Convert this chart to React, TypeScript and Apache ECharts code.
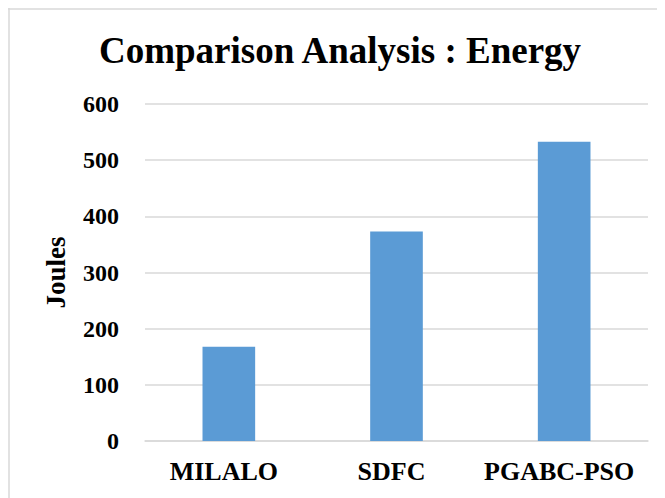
import React, { useEffect, useRef } from "react";
import * as echarts from "echarts";

const categories = ["MILALO", "SDFC", "PGABC-PSO"];
const energyJoules = [168, 373, 533];
const yTicks = { min: 0, max: 600, interval: 100 };

const FONT = "'Liberation Serif', 'Times New Roman', serif";

export default function App() {
  const ref = useRef<HTMLDivElement>(null);

  useEffect(() => {
    if (!ref.current) return;
    const chart = echarts.init(ref.current, undefined, { renderer: "svg" });
    chart.setOption({
      animation: false,
      backgroundColor: "#ffffff",
      title: {
        text: "Comparison Analysis : Energy",
        left: 86,
        top: 19,
        textStyle: {
          fontFamily: FONT,
          fontWeight: "bold",
          fontSize: 37,
          color: "#000000",
        },
      },
      graphic: [
        {
          type: "line",
          shape: { x1: 0, y1: 1, x2: 657, y2: 1 },
          style: { stroke: "#d9d9d9", lineWidth: 1.5 },
        },
        {
          type: "line",
          shape: { x1: 1, y1: 0, x2: 1, y2: 490 },
          style: { stroke: "#d9d9d9", lineWidth: 1.5 },
        },
      ],
      grid: { left: 137, right: 17, top: 96, bottom: 57 },
      xAxis: {
        type: "category",
        data: categories,
        axisTick: { show: false },
        axisLine: { lineStyle: { color: "#d9d9d9", width: 1.5 } },
        axisLabel: {
          interval: 0,
          fontFamily: FONT,
          fontWeight: "bold",
          fontSize: 26,
          color: "#000000",
          margin: 17,
          padding: [0, 10, 0, 0],
        },
      },
      yAxis: {
        type: "value",
        min: yTicks.min,
        max: yTicks.max,
        interval: yTicks.interval,
        name: "Joules",
        nameLocation: "middle",
        nameGap: 76,
        nameTextStyle: {
          fontFamily: FONT,
          fontWeight: "bold",
          fontSize: 27,
          color: "#000000",
        },
        axisLine: { show: false },
        axisTick: { show: false },
        splitLine: { lineStyle: { color: "#d9d9d9", width: 1.5 } },
        axisLabel: {
          fontFamily: FONT,
          fontWeight: "bold",
          fontSize: 24,
          color: "#000000",
          margin: 26,
        },
      },
      series: [
        {
          type: "bar",
          data: energyJoules,
          barWidth: "31.4%",
          itemStyle: { color: "#5b9bd5" },
        },
      ],
    });
    return () => chart.dispose();
  }, []);

  return <div ref={ref} style={{ width: 657, height: 490 }} />;
}
